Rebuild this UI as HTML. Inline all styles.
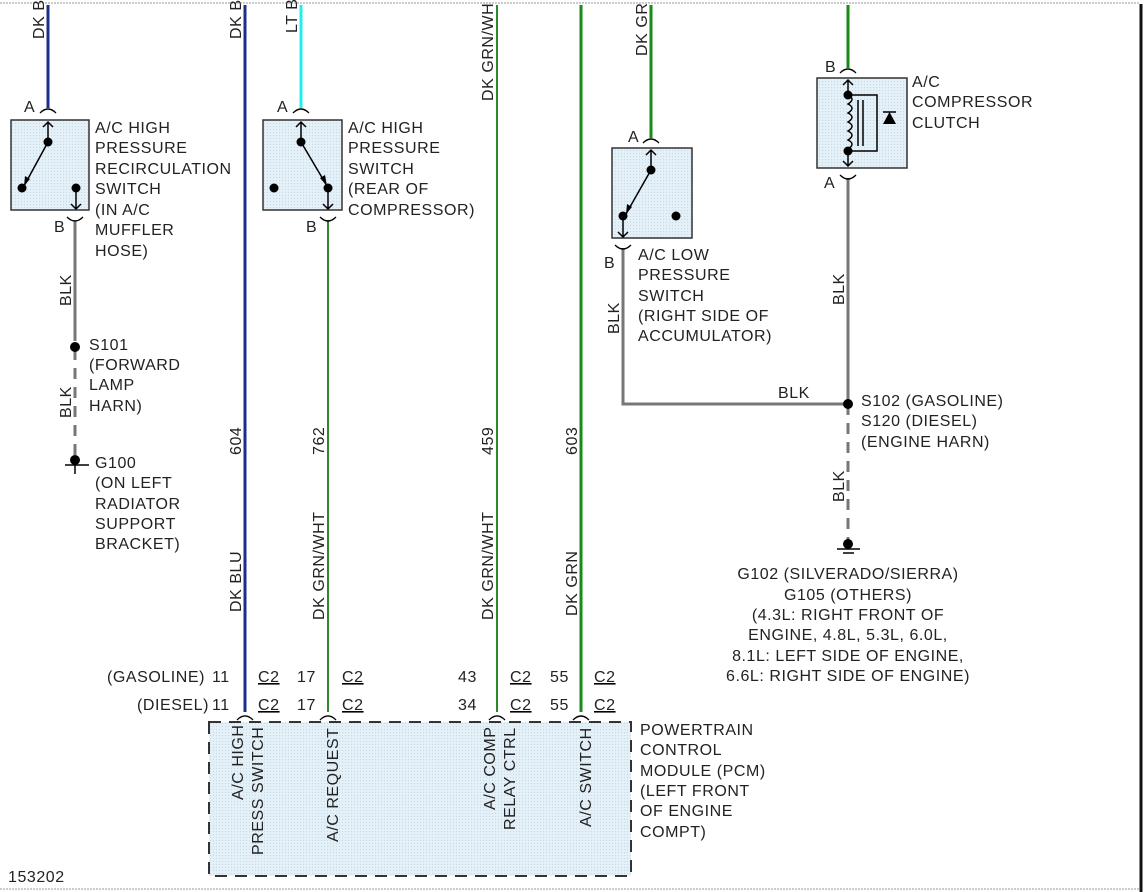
<!DOCTYPE html>
<html><head><meta charset="utf-8"><style>
html,body{margin:0;padding:0;background:#fff;}
svg{display:block;}
text{font-family:"Liberation Sans",Arial,sans-serif;font-size:16px;letter-spacing:0.55px;fill:#222;}
</style></head><body>
<svg width="1146" height="892" viewBox="0 0 1146 892" xmlns="http://www.w3.org/2000/svg">
<defs>
<pattern id="dots" width="3" height="3" patternUnits="userSpaceOnUse"><rect width="3" height="3" fill="#e4f0f8"/><rect width="1" height="1" fill="#c8d8e4"/></pattern>
</defs>
<line x1="0" y1="3" x2="1140" y2="3" stroke="#ccc" stroke-width="2" stroke-dasharray="2,1"/>
<line x1="0" y1="889" x2="1140" y2="889" stroke="#ccc" stroke-width="2" stroke-dasharray="2,1"/>
<line x1="1141" y1="4" x2="1141" y2="892" stroke="#111" stroke-width="3"/>

<line x1="48" y1="5" x2="48" y2="108" stroke="#1a2f8a" stroke-width="3"/>
<line x1="245" y1="5" x2="245" y2="712" stroke="#1a2f8a" stroke-width="3"/>
<line x1="301" y1="5" x2="301" y2="108" stroke="#22eeee" stroke-width="3"/>
<line x1="328" y1="220" x2="328" y2="712" stroke="#2a8a2a" stroke-width="2"/>
<line x1="497" y1="5" x2="497" y2="712" stroke="#2a8a2a" stroke-width="2"/>
<line x1="581" y1="5" x2="581" y2="712" stroke="#178a17" stroke-width="3"/>
<line x1="651" y1="5" x2="651" y2="138" stroke="#178a17" stroke-width="3"/>
<line x1="848" y1="5" x2="848" y2="68" stroke="#178a17" stroke-width="3"/>

<line x1="75" y1="220" x2="75" y2="330" stroke="#777" stroke-width="3"/>
<line x1="75" y1="330" x2="75" y2="455" stroke="#777" stroke-width="3" stroke-dasharray="11,8"/>
<polyline points="623,248 623,404 848,404" fill="none" stroke="#777" stroke-width="3"/>
<line x1="848" y1="178" x2="848" y2="404" stroke="#777" stroke-width="3"/>
<line x1="848" y1="404" x2="848" y2="540" stroke="#777" stroke-width="3" stroke-dasharray="11,8"/>

<circle cx="75" cy="347" r="5" fill="#000"/>
<circle cx="75" cy="460" r="5" fill="#000"/>
<line x1="65" y1="465" x2="89" y2="465" stroke="#000" stroke-width="1.5"/>
<line x1="75" y1="465" x2="75" y2="474" stroke="#000" stroke-width="1.5"/>
<circle cx="848" cy="404" r="5" fill="#000"/>
<circle cx="848" cy="544" r="5" fill="#000"/>
<line x1="837" y1="549" x2="860" y2="549" stroke="#000" stroke-width="1.5"/>
<line x1="843" y1="553" x2="854" y2="553" stroke="#000" stroke-width="1.5"/>

<g fill="none" stroke="#000" stroke-width="1.3">
<path d="M40,113 Q48,105 56,113"/><path d="M293,113 Q301,105 309,113"/><path d="M643,143 Q651,135 659,143"/><path d="M840,73 Q848,65 856,73"/>
<path d="M67,217 Q75,225 83,217"/><path d="M320,217 Q328,225 336,217"/><path d="M615,245 Q623,253 631,245"/><path d="M840,175 Q848,183 856,175"/>
<path d="M237,720 Q245,712 253,720"/><path d="M320,720 Q328,712 336,720"/><path d="M489,720 Q497,712 505,720"/><path d="M573,720 Q581,712 589,720"/>
</g>

<rect x="11" y="120" width="78" height="90" fill="url(#dots)" stroke="#333" stroke-width="1.5"/>
<rect x="263" y="120" width="79" height="90" fill="url(#dots)" stroke="#333" stroke-width="1.5"/>
<rect x="612" y="148" width="80" height="90" fill="url(#dots)" stroke="#333" stroke-width="1.5"/>
<rect x="817" y="78" width="90" height="90" fill="url(#dots)" stroke="#333" stroke-width="1.5"/>

<g stroke="#000" stroke-width="1.5" fill="none">
<path d="M48,122 V142 M43,127 L48,122 L53,127"/>
<line x1="48" y1="142" x2="24" y2="186"/>
<path d="M76,188 V209 M71,204 L76,209 L81,204"/>
<path d="M301,122 V142 M296,127 L301,122 L306,127"/>
<line x1="301" y1="142" x2="327" y2="186"/>
<path d="M328,188 V209 M323,204 L328,209 L333,204"/>
<path d="M651,150 V170 M646,155 L651,150 L656,155"/>
<line x1="651" y1="170" x2="626" y2="214"/>
<path d="M623,216 V237 M618,232 L623,237 L628,232"/>
<path d="M848,80 V95 M843,85 L848,80 L853,85"/>
<path d="M848,152 V166 M843,161 L848,166 L853,161"/>
<path d="M848,95 q8,4 0,9 q8,4 0,9 q8,4 0,9 q8,4 0,9 q8,4 0,9 q8,4 0,9"/>
<line x1="858" y1="100" x2="858" y2="146"/><line x1="863" y1="100" x2="863" y2="146"/>
<polyline points="848,95 877,95 877,151 848,151"/>
<line x1="883" y1="112" x2="896" y2="112"/>
</g>
<g fill="#000">
<circle cx="48" cy="142" r="4.5"/><circle cx="22" cy="188" r="4.5"/><circle cx="76" cy="188" r="4.5"/>
<polygon points="24,186 25,176 30,179"/>
<circle cx="301" cy="142" r="4.5"/><circle cx="274" cy="188" r="4.5"/><circle cx="328" cy="188" r="4.5"/>
<polygon points="327,186 320,178 325,175"/>
<circle cx="651" cy="170" r="4.5"/><circle cx="623" cy="216" r="4.5"/><circle cx="676" cy="216" r="4.5"/>
<polygon points="626,214 627,204 632,207"/>
<circle cx="848" cy="95" r="4.5"/><circle cx="848" cy="151" r="4.5"/>
<polygon points="883,124 896,124 889.5,112"/>
</g>

<rect x="209" y="722" width="422" height="154" fill="url(#dots)" stroke="#333" stroke-width="2" stroke-dasharray="12,8"/>

<text x="24" y="112">A</text><text x="54" y="232">B</text>
<text x="277" y="112">A</text><text x="306" y="232">B</text>
<text x="628" y="142">A</text><text x="604" y="268">B</text>
<text x="825" y="72">B</text><text x="824" y="188">A</text>

<g>
<text x="95" y="133">A/C HIGH</text><text x="95" y="153">PRESSURE</text><text x="95" y="174">RECIRCULATION</text><text x="95" y="194">SWITCH</text><text x="95" y="215">(IN A/C</text><text x="95" y="235">MUFFLER</text><text x="95" y="256">HOSE)</text>
<text x="348" y="133">A/C HIGH</text><text x="348" y="153">PRESSURE</text><text x="348" y="174">SWITCH</text><text x="348" y="194">(REAR OF</text><text x="348" y="215">COMPRESSOR)</text>
<text x="638" y="260">A/C LOW</text><text x="638" y="280">PRESSURE</text><text x="638" y="301">SWITCH</text><text x="638" y="321">(RIGHT SIDE OF</text><text x="638" y="341">ACCUMULATOR)</text>
<text x="912" y="87">A/C</text><text x="912" y="107">COMPRESSOR</text><text x="912" y="128">CLUTCH</text>
<text x="89" y="350">S101</text><text x="89" y="370">(FORWARD</text><text x="89" y="390">LAMP</text><text x="89" y="411">HARN)</text>
<text x="95" y="468">G100</text><text x="95" y="488">(ON LEFT</text><text x="95" y="509">RADIATOR</text><text x="95" y="529">SUPPORT</text><text x="95" y="549">BRACKET)</text>
<text x="778" y="398">BLK</text>
<text x="861" y="406">S102 (GASOLINE)</text><text x="861" y="426">S120 (DIESEL)</text><text x="861" y="447">(ENGINE HARN)</text>
<g text-anchor="middle">
<text x="848" y="579">G102 (SILVERADO/SIERRA)</text><text x="848" y="600">G105 (OTHERS)</text><text x="848" y="620">(4.3L: RIGHT FRONT OF</text><text x="848" y="640">ENGINE, 4.8L, 5.3L, 6.0L,</text><text x="848" y="661">8.1L: LEFT SIDE OF ENGINE,</text><text x="848" y="681">6.6L: RIGHT SIDE OF ENGINE)</text>
</g>
<text x="640" y="735">POWERTRAIN</text><text x="640" y="755">CONTROL</text><text x="640" y="776">MODULE (PCM)</text><text x="640" y="796">(LEFT FRONT</text><text x="640" y="816">OF ENGINE</text><text x="640" y="837">COMPT)</text>
<text x="8" y="882">153202</text>

<text x="107" y="682">(GASOLINE)</text><text x="212" y="682">11</text>
<text x="137" y="710">(DIESEL)</text><text x="212" y="710">11</text>
<text x="297" y="682">17</text><text x="297" y="710">17</text>
<text x="458" y="682">43</text><text x="458" y="710">34</text>
<text x="550" y="682">55</text><text x="550" y="710">55</text>
<g text-decoration="underline">
<text x="258" y="682">C2</text><text x="258" y="710">C2</text>
<text x="342" y="682">C2</text><text x="342" y="710">C2</text>
<text x="510" y="682">C2</text><text x="510" y="710">C2</text>
<text x="594" y="682">C2</text><text x="594" y="710">C2</text>
</g>
</g>

<g>
<text transform="translate(44,39) rotate(-90)">DK B</text>
<text transform="translate(241,39) rotate(-90)">DK B</text>
<text transform="translate(297,33) rotate(-90)">LT B</text>
<text transform="translate(493,101) rotate(-90)">DK GRN/WH</text>
<text transform="translate(647,56) rotate(-90)">DK GR</text>
<text transform="translate(71,306) rotate(-90)">BLK</text>
<text transform="translate(71,418) rotate(-90)">BLK</text>
<text transform="translate(619,334) rotate(-90)">BLK</text>
<text transform="translate(844,305) rotate(-90)">BLK</text>
<text transform="translate(844,502) rotate(-90)">BLK</text>
<text transform="translate(241,455) rotate(-90)">604</text>
<text transform="translate(324,455) rotate(-90)">762</text>
<text transform="translate(493,455) rotate(-90)">459</text>
<text transform="translate(577,455) rotate(-90)">603</text>
<text transform="translate(241,612) rotate(-90)">DK BLU</text>
<text transform="translate(324,620) rotate(-90)">DK GRN/WHT</text>
<text transform="translate(493,620) rotate(-90)">DK GRN/WHT</text>
<text transform="translate(577,616) rotate(-90)">DK GRN</text>
<text transform="translate(243,800) rotate(-90)">A/C HIGH</text>
<text transform="translate(263,855) rotate(-90)">PRESS SWITCH</text>
<text transform="translate(338,842) rotate(-90)">A/C REQUEST</text>
<text transform="translate(495,810) rotate(-90)">A/C COMP</text>
<text transform="translate(515,830) rotate(-90)">RELAY CTRL</text>
<text transform="translate(591,827) rotate(-90)">A/C SWITCH</text>
</g>
</svg>
</body></html>
